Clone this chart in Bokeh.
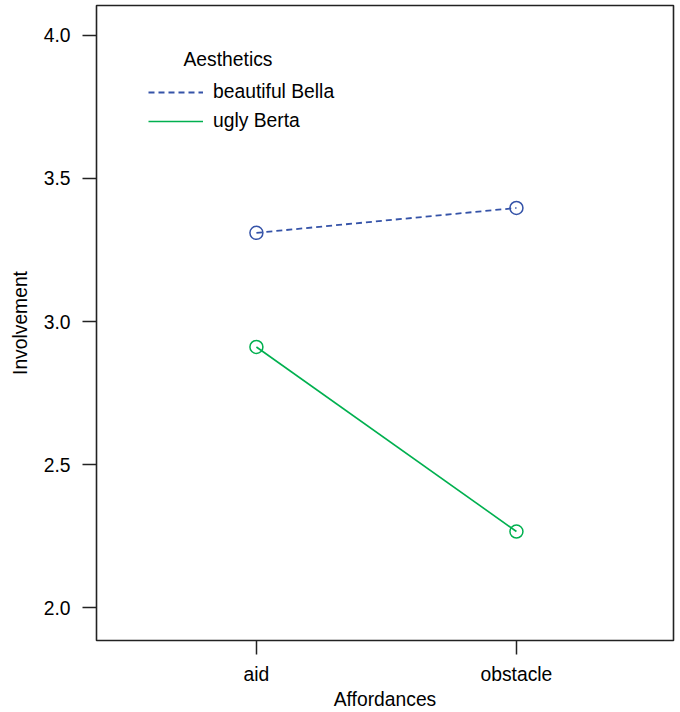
from bokeh.plotting import figure
from bokeh.models import (Range1d, FixedTicker, Legend, LegendItem, Label)
from bokeh.embed import file_html
from bokeh.resources import INLINE

# ---- data ----
affordances = ["aid", "obstacle"]
series_names = ["beautiful Bella", "ugly Berta"]
bella = [3.310, 3.397]
berta = [2.911, 2.266]
y_ticks = [2.0, 2.5, 3.0, 3.5, 4.0]
legend_title = "Aesthetics"
x_title = "Affordances"
y_title = "Involvement"

FONT = "Liberation Sans"
FS = "19.3px"
BLUE = "#3553a8"
GREEN = "#00b04f"

x_pos = [i + 1 for i in range(len(affordances))]

FH = 635
p = figure(
    frame_width=577, frame_height=FH,
    min_border_left=96, min_border_right=7, min_border_top=5, min_border_bottom=64,
    x_range=Range1d(0.385, 2.604), y_range=Range1d(1.885, 4.1047),
    output_backend="svg", toolbar_location=None,
)
p.background_fill_color = "white"
p.border_fill_color = "white"
p.outline_line_color = "#222222"
p.outline_line_width = 1.6
p.grid.visible = False

# x axis
xa = p.xaxis[0]
xa.ticker = FixedTicker(ticks=x_pos)
xa.major_label_overrides = {x: lab for x, lab in zip(x_pos, affordances)}
xa.axis_label = x_title
# y axis
ya = p.yaxis[0]
ya.ticker = FixedTicker(ticks=y_ticks)
ya.major_label_overrides = {v: f"{v:.1f}" for v in y_ticks}
ya.axis_label = y_title

for ax in (xa, ya):
    ax.axis_line_color = None
    ax.major_tick_out = 14
    ax.major_tick_in = 0
    ax.minor_tick_line_color = None
    ax.major_tick_line_color = "#222222"
    ax.major_tick_line_width = 1.5
    ax.major_label_text_font = FONT
    ax.major_label_text_font_size = FS
    ax.major_label_text_color = "black"
    ax.axis_label_text_font = FONT
    ax.axis_label_text_font_size = FS
    ax.axis_label_text_font_style = "normal"
    ax.axis_label_text_color = "black"
xa.major_label_standoff = 9
xa.axis_label_standoff = 1
ya.major_label_standoff = 12
ya.axis_label_standoff = 10

# series
r1 = p.line(x_pos, bella, line_color=BLUE, line_width=1.8, line_dash="6 4")
p.scatter(x_pos, bella, marker="circle", size=13, fill_color=None,
          line_color=BLUE, line_width=1.5)
r2 = p.line(x_pos, berta, line_color=GREEN, line_width=1.6)
p.scatter(x_pos, berta, marker="circle", size=13, fill_color=None,
          line_color=GREEN, line_width=1.5)

legend = Legend(
    items=[LegendItem(label=series_names[0], renderers=[r1]),
           LegendItem(label=series_names[1], renderers=[r2])],
    location=(52, 508),
    padding=0, margin=0, spacing=7,
    glyph_width=55, glyph_height=20, label_height=20, label_standoff=10,
    label_text_font=FONT, label_text_font_size=FS, label_text_color="black",
    border_line_color=None, background_fill_alpha=0,
)
p.add_layout(legend, "center")

title_lbl = Label(x=87, y=FH - 54, x_units="screen", y_units="screen",
                  text=legend_title, text_font=FONT, text_font_size=FS,
                  text_color="black", text_baseline="middle")
p.add_layout(title_lbl)

open("out.html", "w").write(file_html(p, INLINE))
